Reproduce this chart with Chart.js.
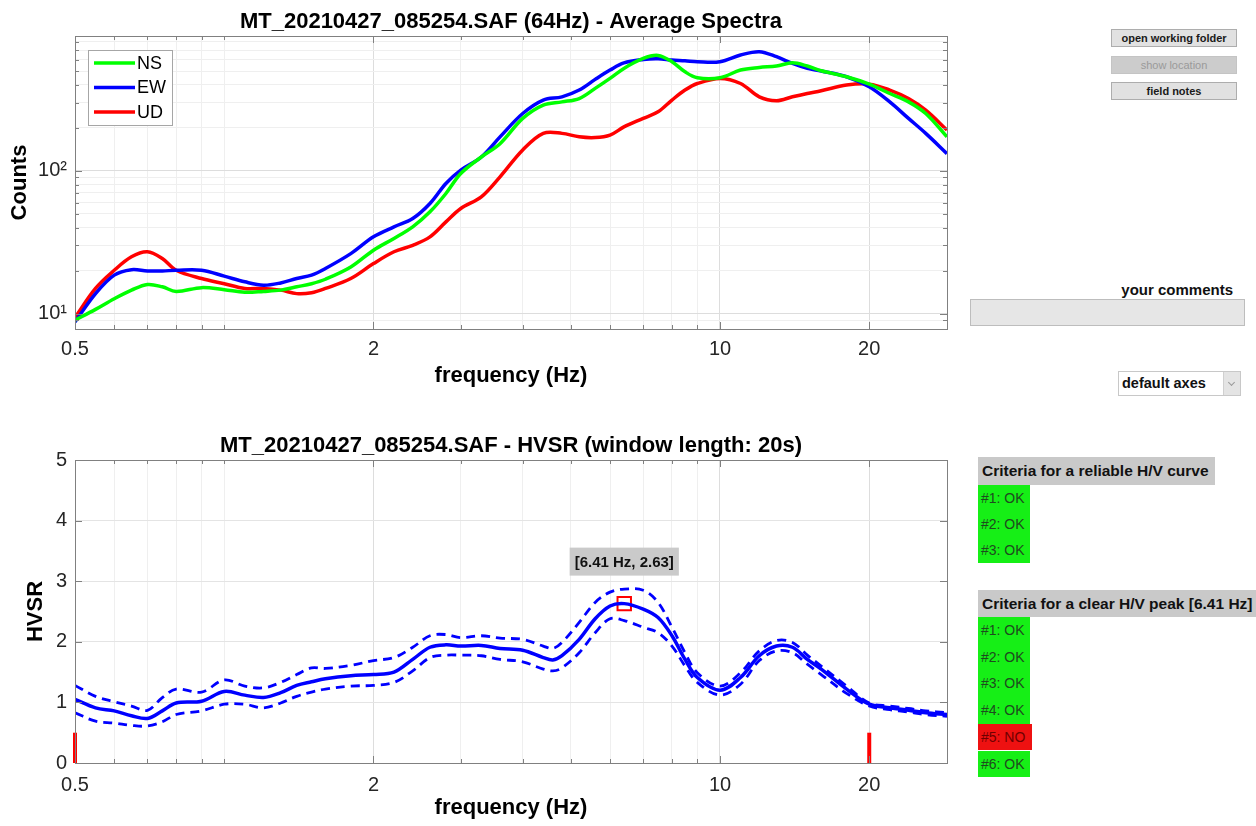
<!DOCTYPE html>
<html>
<head>
<meta charset="utf-8">
<title>HVSR - average spectra</title>
<script src="https://cdn.jsdelivr.net/npm/chart.js@4.4.1/dist/chart.umd.min.js"></script>
<style>
  body { margin: 0; background: #fff; font-family: "Liberation Sans", Arial, Helvetica, sans-serif; }
  #page { position: relative; width: 1256px; height: 826px; overflow: hidden; background: #fff; }
  .chartBox { position: absolute; left: 0; width: 960px; }
  .btn {
    position: absolute; left: 1111px; width: 126px; height: 18px; box-sizing: border-box;
    background: #e1e1e1; border: 1px solid #adadad; color: #1a1a1a;
    font-size: 11px; font-weight: bold; text-align: center; line-height: 16px;
  }
  .btn.off { background: #cccccc; border-color: #c4c4c4; color: #9a9a9a; font-weight: normal; }
  #commentsLbl { position: absolute; right: 23px; top: 281px; font-size: 15px; font-weight: bold; color: #111; }
  #commentsBox { position: absolute; left: 970px; top: 299px; width: 275px; height: 27px; box-sizing: border-box; background: #e6e6e6; border: 1px solid #bdbdbd; }
  #axesSel { position: absolute; left: 1118px; top: 371px; width: 123px; height: 25px; box-sizing: border-box; background: #fff; border: 1px solid #c8c8c8; font-size: 14.5px; font-weight: bold; line-height: 23px; padding-left: 3px; color: #111; }
  #axesSel .arrow { position: absolute; right: 0; top: 0; width: 16px; height: 23px; background: #e4e4e4; border-left: 1px solid #d0d0d0; }
  #axesSel .arrow:after { content: ""; position: absolute; left: 5px; top: 8px; width: 4px; height: 4px; border-right: 1px solid #999; border-bottom: 1px solid #999; transform: rotate(45deg); }
  .critHead { position: absolute; left: 978px; height: 28px; background: #c9c9c9; font-size: 15.5px; font-weight: bold; line-height: 28px; padding-left: 4px; color: #111; white-space: nowrap; }
  .crit { position: absolute; left: 978px; width: 52px; background: #16ef16; font-size: 14px; padding-left: 3px; box-sizing: border-box; color: #1f4a1f; white-space: nowrap; }
  .crit.no { background: #ee1111; color: #6e0000; width: 54px; }
</style>
</head>
<body>
<div id="page">
  <div class="chartBox" style="top:0; height:400px;"><canvas id="spectraChart"></canvas></div>
  <div class="chartBox" style="top:400px; height:426px;"><canvas id="hvsrChart"></canvas></div>

  <div class="btn" style="top:29px;">open working folder</div>
  <div class="btn off" style="top:56px;">show location</div>
  <div class="btn" style="top:82px;">field notes</div>
  <div id="commentsLbl">your comments</div>
  <div id="commentsBox"></div>
  <div id="axesSel">default axes<div class="arrow"></div></div>

  <div class="critHead" style="top:457px; width:233px;">Criteria for a reliable H/V curve</div>
  <div id="curveCrit"></div>
  <div class="critHead" style="top:590px; width:290px; height:27px; line-height:27px;">Criteria for a clear H/V peak [6.41 Hz]</div>
  <div id="peakCrit"></div>
</div>

<script>
// ---- average spectra (top) ----
const specFreq = [0.5, 0.55, 0.6, 0.65, 0.7, 0.75, 0.8, 0.9, 1.0, 1.1, 1.2, 1.3, 1.4, 1.5, 1.6, 1.8,
  2.0, 2.2, 2.4, 2.6, 2.8, 3.0, 3.3, 3.6, 4.0, 4.4, 4.8, 5.2, 5.6, 6.0, 6.4, 7.0, 7.5, 8.0, 8.5, 9.0,
  10, 11, 12, 13, 14, 15, 16, 18, 20, 22, 24, 26, 28.7];
const nsCounts = [8.98, 10.7, 12.7, 14.6, 16.0, 15.4, 14.3, 15.2, 14.7, 14.1, 14.3, 14.6, 15.4, 16.2, 17.4, 21.2,
  27.8, 33.6, 40.5, 51.6, 69.4, 95.8, 125, 155, 233, 289, 304, 321, 378, 444, 522, 613, 643, 581, 494, 449,
  449, 508, 530, 542, 571, 542, 502, 456, 405, 348, 304, 252, 173];
const ewCounts = [8.74, 13.8, 18.6, 20.3, 19.9, 19.9, 20.1, 20.1, 18.3, 16.7, 15.8, 16.4, 17.6, 18.6, 20.7, 26.3,
  34.5, 40.5, 46.3, 59, 81.5, 101, 125, 173, 252, 313, 330, 368, 437, 508, 571, 603, 610, 597, 590, 581,
  581, 647, 683, 630, 565, 522, 500, 456, 388, 304, 233, 183, 132];
const udCounts = [9.38, 15.0, 20.1, 25.0, 27.1, 24.3, 20.1, 17.6, 16.2, 15.0, 15.0, 14.6, 13.8, 14.0, 15.0, 17.6,
  22.4, 27.1, 30.1, 34.5, 43.9, 54.5, 65.7, 90.8, 140, 183, 183, 173, 171, 178, 203, 233, 259, 313, 368, 409,
  444, 409, 330, 310, 330, 348, 364, 399, 405, 368, 321, 266, 193];
const seriesNames = ["NS", "EW", "UD"];
const seriesColors = ["#00ff00", "#0000ff", "#ff0000"];

// ---- HVSR (bottom) ----
const hvFreq = [0.5, 0.55, 0.6, 0.65, 0.7, 0.75, 0.8, 0.9, 1.0, 1.1, 1.2, 1.3, 1.4, 1.5, 1.6, 1.8,
  2.0, 2.2, 2.4, 2.6, 2.8, 3.0, 3.3, 3.6, 4.0, 4.4, 4.6, 4.8, 5.2, 5.6, 6.0, 6.41, 7.0, 7.5, 8.0, 8.5, 9.0,
  10, 11, 12, 13, 14, 15, 16, 18, 20, 22, 24, 26, 28.7];
const hvMean = [1.05, 0.91, 0.86, 0.78, 0.735, 0.86, 0.99, 1.02, 1.18, 1.12, 1.08, 1.16, 1.28, 1.34, 1.39, 1.44,
  1.46, 1.50, 1.71, 1.91, 1.95, 1.93, 1.94, 1.89, 1.86, 1.74, 1.70, 1.77, 2.04, 2.38, 2.59, 2.63, 2.54, 2.40, 2.10, 1.71, 1.41,
  1.20, 1.41, 1.77, 1.93, 1.91, 1.71, 1.55, 1.22, 0.97, 0.91, 0.87, 0.83, 0.80];
const hvUpper = [1.28, 1.10, 1.01, 0.94, 0.87, 1.08, 1.22, 1.17, 1.37, 1.27, 1.24, 1.33, 1.46, 1.57, 1.56, 1.61,
  1.69, 1.74, 1.91, 2.10, 2.12, 2.07, 2.10, 2.06, 2.04, 1.93, 1.89, 1.99, 2.32, 2.65, 2.82, 2.87, 2.85, 2.65, 2.24, 1.82, 1.49,
  1.27, 1.49, 1.85, 2.02, 1.99, 1.78, 1.60, 1.27, 0.99, 0.94, 0.90, 0.86, 0.83];
const hvLower = [0.83, 0.69, 0.66, 0.62, 0.61, 0.68, 0.80, 0.86, 0.97, 0.97, 0.91, 0.99, 1.10, 1.17, 1.22, 1.27,
  1.28, 1.33, 1.52, 1.74, 1.78, 1.78, 1.77, 1.71, 1.67, 1.55, 1.52, 1.57, 1.82, 2.15, 2.38, 2.35, 2.24, 2.15, 1.93, 1.60, 1.33,
  1.12, 1.30, 1.69, 1.85, 1.82, 1.63, 1.46, 1.15, 0.94, 0.88, 0.84, 0.80, 0.77];
const limitFreq = [0.5, 20];
const limitHeight = 0.5;
const peakFreq = 6.41;
const peakAmp = 2.63;

// ---- ticks ----
const freqTicks = [0.5, 0.6, 0.7, 0.8, 0.9, 1, 2, 3, 4, 5, 6, 7, 8, 9, 10, 20];
const freqLabelled = [0.5, 2, 10, 20];
const countTicks = [9, 10, 20, 30, 40, 50, 60, 70, 80, 90, 100, 200, 300, 400, 500, 600, 700, 800];
const countLabelValues = [10, 100];
const countLabelText = ["10\u00b9", "10\u00b2"];
const hvTicks = [0, 1, 2, 3, 4, 5];

// ---- criteria panel ----
const curveCriteria = ["#1: OK", "#2: OK", "#3: OK"];
const peakCriteria = ["#1: OK", "#2: OK", "#3: OK", "#4: OK", "#5: NO", "#6: OK"];

const FONT = '"Liberation Sans", Arial, Helvetica, sans-serif';
Chart.defaults.font.family = FONT;
Chart.defaults.color = "#262626";

const pts = (xs, ys) => xs.map((x, i) => ({ x: x, y: ys[i] }));
const gridColor = (majors) => (ctx) =>
  ctx.tick && majors.includes(ctx.tick.value) ? "#dddddd" : "#efefef";

// build the criteria boxes
function fillCriteria(list, top, step) {
  const page = document.getElementById("page");
  list.forEach((txt, i) => {
    const d = document.createElement("div");
    d.className = txt.includes("NO") ? "crit no" : "crit";
    d.style.top = (top + i * step) + "px";
    d.style.height = step + "px";
    d.style.lineHeight = step + "px";
    d.textContent = txt;
    page.appendChild(d);
  });
}
fillCriteria(curveCriteria, 485, 26);
fillCriteria(peakCriteria, 617, 26.7);

// frame: box around the plot + inside tick marks, like matlab "box on"
const framePlugin = {
  id: "frame",
  afterDatasetsDraw(chart, args, opts) {
    const { ctx, chartArea: a, scales } = chart;
    ctx.save();
    ctx.strokeStyle = "#808080";
    ctx.lineWidth = 1;
    ctx.beginPath();
    scales.x.ticks.forEach((t) => {
      const px = Math.round(scales.x.getPixelForValue(t.value)) + 0.5;
      const len = opts.xMajor.includes(t.value) ? 7 : 4;
      ctx.moveTo(px, a.bottom); ctx.lineTo(px, a.bottom - len);
      ctx.moveTo(px, a.top); ctx.lineTo(px, a.top + len);
    });
    scales.y.ticks.forEach((t) => {
      const py = Math.round(scales.y.getPixelForValue(t.value)) + 0.5;
      const len = opts.yMajor.includes(t.value) ? 7 : 4;
      ctx.moveTo(a.left, py); ctx.lineTo(a.left + len, py);
      ctx.moveTo(a.right, py); ctx.lineTo(a.right - len, py);
    });
    ctx.stroke();
    ctx.strokeRect(Math.round(a.left) + 0.5, Math.round(a.top) + 0.5,
      Math.round(a.right - a.left), Math.round(a.bottom - a.top));
    ctx.restore();
  },
  afterDraw(chart, args, opts) {
    const { ctx, chartArea: a } = chart;
    ctx.save();
    ctx.font = "bold 22px " + FONT;
    ctx.fillStyle = "#000";
    ctx.textAlign = "center";
    ctx.textBaseline = "alphabetic";
    ctx.fillText(opts.title, (a.left + a.right) / 2, opts.titleY);
    ctx.restore();
  }
};

// legend box in the upper left corner of the spectra plot
const legendPlugin = {
  id: "boxLegend",
  afterDatasetsDraw(chart) {
    const { ctx, chartArea: a } = chart;
    const x0 = a.left + 13, y0 = a.top + 14;
    ctx.save();
    ctx.fillStyle = "#fff";
    ctx.fillRect(x0, y0, 84, 75);
    ctx.strokeStyle = "#a6a6a6";
    ctx.lineWidth = 1;
    ctx.strokeRect(x0 + 0.5, y0 + 0.5, 84, 75);
    ctx.font = "18px " + FONT;
    ctx.textBaseline = "middle";
    chart.data.datasets.forEach((ds, i) => {
      const y = y0 + 13 + i * 24.5;
      ctx.strokeStyle = ds.borderColor;
      ctx.lineWidth = 3.5;
      ctx.beginPath();
      ctx.moveTo(x0 + 6, y); ctx.lineTo(x0 + 47, y);
      ctx.stroke();
      ctx.fillStyle = "#000";
      ctx.fillText(ds.label, x0 + 49, y + 1);
    });
    ctx.restore();
  }
};

// grey data tip above the chosen peak
const peakTipPlugin = {
  id: "peakTip",
  afterDatasetsDraw(chart) {
    const { ctx, scales } = chart;
    const px = scales.x.getPixelForValue(peakFreq);
    const py = scales.y.getPixelForValue(peakAmp);
    const txt = "[" + peakFreq.toFixed(2) + " Hz, " + peakAmp.toFixed(2) + "]";
    ctx.save();
    ctx.font = "bold 15px " + FONT;
    const w = ctx.measureText(txt).width + 10;
    const h = 28;
    const bx = px - w / 2, by = py - 28 - h;
    ctx.fillStyle = "#cacaca";
    ctx.fillRect(bx, by, w, h);
    ctx.fillStyle = "#111";
    ctx.textAlign = "center";
    ctx.textBaseline = "middle";
    ctx.fillText(txt, px, by + h / 2 + 1);
    ctx.restore();
  }
};

function freqAxis(height, tickPad, titlePad) {
  return {
    type: "logarithmic",
    min: 0.5,
    max: 28.7,
    afterBuildTicks: (scale) => { scale.ticks = freqTicks.map((v) => ({ value: v })); },
    afterFit: (scale) => { scale.height = height; },
    ticks: {
      autoSkip: false, maxRotation: 0, padding: tickPad, color: "#262626", font: { size: 20 },
      callback: (v) => (freqLabelled.includes(v) ? String(v) : "")
    },
    grid: { color: gridColor(freqLabelled), drawTicks: false },
    border: { display: false },
    title: {
      display: true, text: "frequency (Hz)", color: "#000",
      font: { size: 22, weight: "bold" }, padding: { top: 0, bottom: titlePad }
    }
  };
}

const spectraLine = (i, values) => ({
  label: seriesNames[i],
  data: pts(specFreq, values),
  borderColor: seriesColors[i],
  borderWidth: 3.5,
  pointRadius: 0,
  tension: 0.35
});

new Chart(document.getElementById("spectraChart"), {
  type: "line",
  data: {
    datasets: [spectraLine(0, nsCounts), spectraLine(1, ewCounts), spectraLine(2, udCounts)]
  },
  options: {
    responsive: true,
    maintainAspectRatio: false,
    animation: false,
    devicePixelRatio: 1,
    layout: { padding: { top: 36, right: 13, left: 0, bottom: 0 } },
    plugins: {
      legend: { display: false },
      tooltip: { enabled: false },
      frame: {
        title: "MT_20210427_085254.SAF (64Hz) - Average Spectra", titleY: 28,
        xMajor: freqLabelled, yMajor: countLabelValues
      }
    },
    scales: {
      x: freqAxis(71, 8, 11),
      y: {
        type: "logarithmic",
        min: 7.8,
        max: 880,
        afterBuildTicks: (scale) => { scale.ticks = countTicks.map((v) => ({ value: v })); },
        afterFit: (scale) => { scale.width = 75; },
        ticks: {
          autoSkip: false, padding: 8, color: "#262626", font: { size: 20 },
          callback: (v) => {
            const k = countLabelValues.indexOf(v);
            return k >= 0 ? countLabelText[k] : "";
          }
        },
        grid: { color: gridColor(countLabelValues), drawTicks: false },
        border: { display: false },
        title: {
          display: true, text: "Counts", color: "#000",
          font: { size: 22, weight: "bold" }, padding: { top: 7, bottom: 0 }
        }
      }
    }
  },
  plugins: [framePlugin, legendPlugin]
});

const limitBar = (f) => ({
  data: [{ x: f, y: 0 }, { x: f, y: limitHeight }],
  borderColor: "#ff0000",
  borderWidth: 4,
  pointRadius: 0,
  clip: false
});

new Chart(document.getElementById("hvsrChart"), {
  type: "line",
  data: {
    datasets: [
      { data: pts(hvFreq, hvUpper), borderColor: "#0000ff", borderWidth: 2.8, borderDash: [9, 6], pointRadius: 0, tension: 0.35 },
      { data: pts(hvFreq, hvLower), borderColor: "#0000ff", borderWidth: 2.8, borderDash: [9, 6], pointRadius: 0, tension: 0.35 },
      { data: pts(hvFreq, hvMean), borderColor: "#0000ff", borderWidth: 3.5, pointRadius: 0, tension: 0.35 },
      limitBar(limitFreq[0]),
      limitBar(limitFreq[1]),
      {
        data: [{ x: peakFreq, y: peakAmp }],
        showLine: false,
        pointStyle: "rect",
        pointRadius: 9.5,
        pointBorderColor: "#ff0000",
        pointBackgroundColor: "rgba(0,0,0,0)",
        pointBorderWidth: 2
      }
    ]
  },
  options: {
    responsive: true,
    maintainAspectRatio: false,
    animation: false,
    devicePixelRatio: 1,
    layout: { padding: { top: 60, right: 13, left: 0, bottom: 0 } },
    plugins: {
      legend: { display: false },
      tooltip: { enabled: false },
      frame: {
        title: "MT_20210427_085254.SAF - HVSR (window length: 20s)", titleY: 52,
        xMajor: freqLabelled, yMajor: hvTicks
      }
    },
    scales: {
      x: freqAxis(63, 10, 5),
      y: {
        type: "linear",
        min: 0,
        max: 5,
        afterBuildTicks: (scale) => { scale.ticks = hvTicks.map((v) => ({ value: v })); },
        afterFit: (scale) => { scale.width = 75; },
        ticks: { autoSkip: false, padding: 8, color: "#262626", font: { size: 20 } },
        grid: { color: "#e4e4e4", drawTicks: false },
        border: { display: false },
        title: {
          display: true, text: "HVSR", color: "#000",
          font: { size: 22, weight: "bold" }, padding: { top: 23, bottom: 0 }
        }
      }
    }
  },
  plugins: [framePlugin, peakTipPlugin]
});
</script>
</body>
</html>
